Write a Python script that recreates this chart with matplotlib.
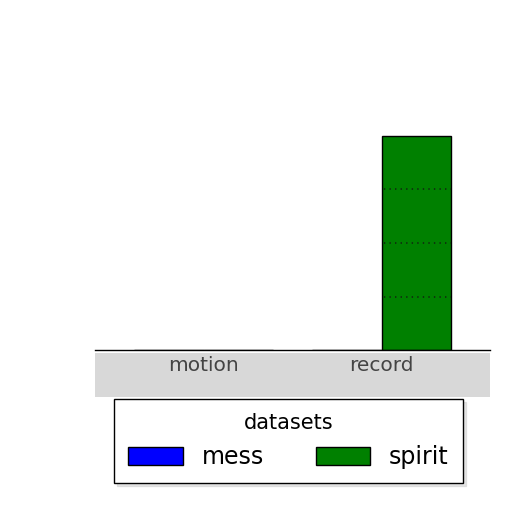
import matplotlib
matplotlib.use("Agg")
import matplotlib.pyplot as plt
from matplotlib.patches import Rectangle
import numpy as np

plt.style.use("classic")

categories = ["motion", "record"]
series_names = ["mess", "spirit"]
mess = [0.0, 0.0]
spirit = [0.0, 8.0]
grid_values = [2, 4, 6]
colors = ["b", "g"]

fig = plt.figure(figsize=(5.12, 5.12), dpi=100)
fig.patch.set_facecolor("white")
ax = fig.add_axes([0.186, 0.316, 0.771, 0.44])

# grey band under the tick labels (shadow-like)
band = Rectangle((0.186, 0.225), 0.771, 0.085, transform=fig.transFigure,
                 facecolor="#d8d8d8", edgecolor="none", zorder=-5)
fig.patches.append(band)
ax.set_zorder(1)
ax.patch.set_alpha(0)

x = np.arange(len(categories))
w = 0.39
ax.bar(x - w / 2, mess, w, color=colors[0], label=series_names[0], zorder=1)
bars = ax.bar(x + w / 2, spirit, w, color=colors[1], label=series_names[1], zorder=1)

ax.set_xlim(-0.61, 1.61)
ax.set_ylim(0, 8.4)
ax.set_xticks(x)
ax.set_xticklabels(categories, fontsize=14.5, color="#444444")
ax.set_yticks([])
ax.tick_params(axis="both", length=0)
for side in ["top", "left", "right"]:
    ax.spines[side].set_visible(False)

# dotted grid only shows over the tall bar
tall = max(bars, key=lambda b: b.get_height())
for gv in grid_values:
    ln = ax.axhline(gv, linestyle=":", color="#0f2f0f", lw=1.3, zorder=2)
    ln.set_clip_path(tall)

leg = ax.legend(title="datasets", ncol=2, loc="upper center",
                bbox_to_anchor=(0.49, -0.165), fontsize=17, fancybox=False,
                shadow={"color": "0.8"}, frameon=True, handlelength=2.3,
                handleheight=0.8, columnspacing=2.2, borderpad=0.6,
                labelspacing=0.5)
leg.get_title().set_fontsize(15)
leg.get_frame().set_edgecolor("black")

fig.savefig("out.png", dpi=100, facecolor="white")
